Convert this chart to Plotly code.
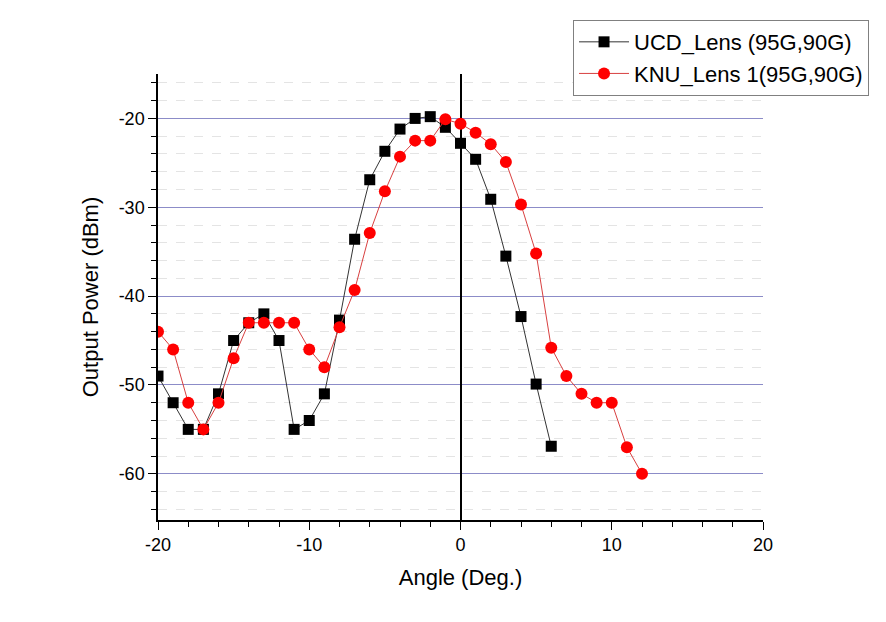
import plotly.graph_objects as go

angle_ucd = [-20, -19, -18, -17, -16, -15, -14, -13, -12, -11, -10, -9, -8, -7, -6, -5, -4, -3, -2, -1, 0, 1, 2, 3, 4, 5, 6]
power_ucd = [-49.0, -52.0, -55.0, -55.0, -51.0, -45.0, -43.0, -42.0, -45.0, -55.0, -54.0, -51.0, -42.7, -33.6, -26.9, -23.7, -21.2, -20.0, -19.8, -21.0, -22.8, -24.6, -29.1, -35.5, -42.3, -49.9, -56.9]

angle_knu = [-20, -19, -18, -17, -16, -15, -14, -13, -12, -11, -10, -9, -8, -7, -6, -5, -4, -3, -2, -1, 0, 1, 2, 3, 4, 5, 6, 7, 8, 9, 10, 11, 12]
power_knu = [-44.0, -46.0, -52.0, -55.0, -52.0, -47.0, -43.0, -43.0, -43.0, -43.0, -46.0, -48.0, -43.5, -39.3, -32.9, -28.2, -24.3, -22.5, -22.5, -20.1, -20.6, -21.6, -22.9, -24.9, -29.7, -35.2, -45.8, -49.0, -51.0, -52.0, -52.0, -57.0, -60.0]

x_tickvals = [-20, -10, 0, 10, 20]
x_ticktext = ["-20", "-10", "0", "10", "20"]
y_tickvals = [-60, -50, -40, -30, -20]
y_ticktext = ["-60", "-50", "-40", "-30", "-20"]

FONT = "Liberation Sans, Arial, sans-serif"

fig = go.Figure()
fig.add_trace(go.Scatter(
    x=angle_ucd, y=power_ucd, mode="lines+markers",
    name="UCD_Lens (95G,90G)",
    line=dict(color="#333333", width=1),
    marker=dict(symbol="square", size=11, color="black"),
))
fig.add_trace(go.Scatter(
    x=angle_knu, y=power_knu, mode="lines+markers",
    name="KNU_Lens 1(95G,90G)",
    line=dict(color="#d84040", width=1),
    marker=dict(symbol="circle", size=12, color="#ff0000"),
))

fig.update_layout(
    width=886, height=622,
    margin=dict(l=150, r=131, t=64, b=110),
    paper_bgcolor="white", plot_bgcolor="white",
    font=dict(family=FONT, color="black"),
    legend=dict(
        x=0.686, y=1.121, xanchor="left", yanchor="top",
        bordercolor="#808080", borderwidth=1, bgcolor="white",
        font=dict(size=22, family=FONT), tracegroupgap=0,
        itemwidth=50,
    ),
)

fig.update_xaxes(
    range=[-20, 20], automargin=False,
    tickvals=x_tickvals, ticktext=x_ticktext,
    tickfont=dict(size=18),
    ticks="outside", ticklen=8, tickwidth=1, tickcolor="black",
    showline=True, linecolor="black", linewidth=1.5,
    showgrid=False,
    zeroline=True, zerolinecolor="black", zerolinewidth=2,
    minor=dict(dtick=2, tick0=0, ticks="outside", ticklen=5, tickcolor="black", showgrid=False),
    title=dict(text="Angle (Deg.)", font=dict(size=22), standoff=15),
)
fig.update_yaxes(
    range=[-65.2, -15], automargin=False,
    tickvals=y_tickvals, ticktext=y_ticktext,
    tickfont=dict(size=18),
    ticks="outside", ticklen=8, tickwidth=1, tickcolor="black",
    showline=True, linecolor="black", linewidth=1.5,
    showgrid=True, gridcolor="#8c8cc8", gridwidth=1,
    zeroline=False,
    minor=dict(dtick=2, tick0=0, ticks="outside", ticklen=5, tickcolor="black",
               showgrid=True, gridcolor="#e4e4e4", griddash="dash", gridwidth=1),
    title=dict(text="Output Power (dBm)", font=dict(size=22), standoff=14),
)

fig.write_html("out.html")
